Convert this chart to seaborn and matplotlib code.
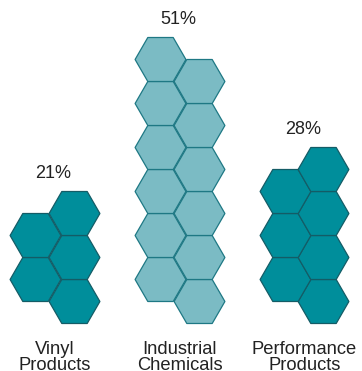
import numpy as np
import pandas as pd
import seaborn as sns
import matplotlib
matplotlib.use("Agg")
import matplotlib.pyplot as plt

# ---- data ----
categories = ["Vinyl\nProducts", "Industrial\nChemicals", "Performance\nProducts"]
percentages = [21, 51, 28]
hex_counts = [5, 12, 7]
fill_colors = ["#008E9B", "#7BBBC4", "#008E9B"]
edge_colors = ["#145C66", "#1E7884", "#145C66"]

# ---- layout (pixel-like data units) ----
W, H = 362, 371
DPI = 100
R = 25.4                       # hexagon circumradius
hh = np.sqrt(3) * R            # hexagon height (flat-top)
dx = 1.5 * R                   # column offset
centers = [54.5, 179.5, 304.0]
bottom = 323.0                 # bottom edge of the lower column

sns.set_theme(style="white")
plt.rcParams['font.family'] = ['Liberation Sans', 'DejaVu Sans']

fig = plt.figure(figsize=(W / DPI, H / DPI), dpi=DPI)
ax = fig.add_axes([0, 0, 1, 1])

rows = []
for ci, (cat, n) in enumerate(zip(categories, hex_counts)):
    for k in range(n):
        col = 1 if k % 2 == 0 else 0     # right column first, then left
        level = k // 2
        x = centers[ci] + (dx / 2 if col == 1 else -dx / 2)
        y = bottom - hh / 2 - level * hh - (hh / 2 if col == 0 else 0)
        rows.append({"cat": cat, "x": x, "y": y, "ci": ci})
df = pd.DataFrame(rows)

ms_pt = 2 * R * 72 / DPI       # marker diameter in points
for ci, cat in enumerate(categories):
    sub = df[df["ci"] == ci]
    sns.scatterplot(data=sub, x="x", y="y", marker="H", s=ms_pt ** 2,
                    color=fill_colors[ci], edgecolor=edge_colors[ci],
                    linewidth=0.9, ax=ax, legend=False, zorder=3)
    top = sub["y"].min() - hh / 2
    ax.text(centers[ci] - 1.2, top - 13, f"{percentages[ci]}%", ha="center",
            va="baseline", fontsize=13, color="#222222")
    ax.text(centers[ci] + 0.5, 341, cat, ha="center", va="top",
            fontsize=13.2, color="#222222", linespacing=0.9)

ax.set_xlim(0, W)
ax.set_ylim(H, 0)
ax.set_axis_off()
fig.savefig("out.png", dpi=DPI)
